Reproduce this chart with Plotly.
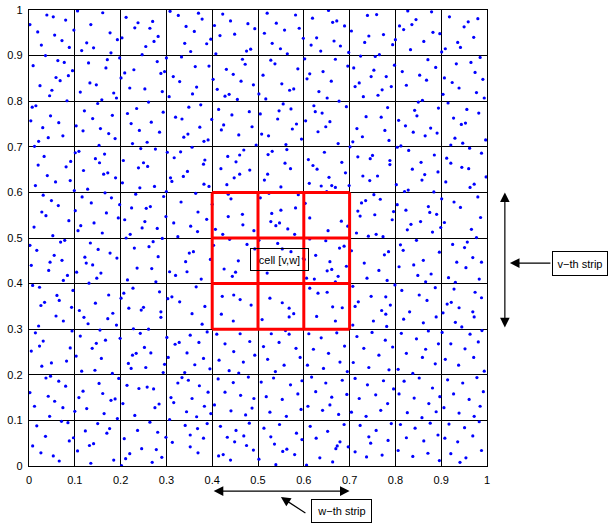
import plotly.graph_objects as go

# ---------------- data ----------------
tick_vals = [0, 0.1, 0.2, 0.3, 0.4, 0.5, 0.6, 0.7, 0.8, 0.9, 1]
tick_text = ["0", "0.1", "0.2", "0.3", "0.4", "0.5", "0.6", "0.7", "0.8", "0.9", "1"]

# red 3x3 block of cells around cell [v,w]
red_x = [0.4, 0.5, 0.6, 0.7]
red_y = [0.3, 0.4, 0.5, 0.6]

cell_label = "cell [v,w]"
v_label = "v\u2212th strip"
w_label = "w\u2212th strip"

# scattered points
dots_top_left = [
(0.039,0.989),(0.053,0.985),(0.080,0.978),(0.002,0.968),(0.019,0.952),(0.056,0.945),(0.072,0.933),(0.027,0.923),(0.088,0.918),(0.098,0.956),(0.106,0.998),(0.161,0.994),(0.135,0.968),(0.177,0.950),(0.193,0.935),(0.126,0.928),(0.141,0.917),(0.115,0.911),(0.179,0.906),(0.203,0.939),(0.212,0.984),(0.238,0.972),(0.270,0.975),(0.231,0.961),(0.264,0.960),(0.282,0.942),(0.273,0.931),(0.255,0.920),(0.247,0.902),(0.308,0.997),(0.326,0.988),
(0.036,0.900),(0.009,0.878),(0.063,0.889),(0.077,0.885),(0.095,0.867),(0.086,0.856),(0.059,0.852),(0.068,0.845),(0.024,0.834),(0.050,0.824),(0.045,0.812),(0.083,0.801),(0.130,0.884),(0.171,0.891),(0.168,0.873),(0.133,0.840),(0.147,0.836),(0.112,0.820),(0.185,0.818),(0.191,0.807),(0.159,0.803),(0.198,0.895),(0.209,0.862),(0.229,0.869),(0.201,0.851),(0.220,0.829),(0.253,0.827),(0.280,0.887),(0.288,0.861),(0.296,0.865),(0.291,0.821),(0.306,0.810),(0.300,0.895),(0.315,0.854),(0.329,0.843),
(0.007,0.787),(0.015,0.790),(0.004,0.757),(0.047,0.768),(0.065,0.753),(0.030,0.742),(0.074,0.724),(0.042,0.720),(0.021,0.712),(0.012,0.701),(0.103,0.746),(0.121,0.779),(0.139,0.762),(0.150,0.795),(0.182,0.769),(0.156,0.740),(0.118,0.735),(0.174,0.729),(0.188,0.718),(0.153,0.703),(0.215,0.773),(0.235,0.784),(0.223,0.751),(0.241,0.736),(0.267,0.754),(0.261,0.798),(0.293,0.776),(0.285,0.732),(0.258,0.710),(0.226,0.707),(0.244,0.696),(0.320,0.765),
(0.033,0.679),(0.091,0.668),(0.101,0.687),(0.109,0.690),(0.145,0.674),(0.165,0.684),(0.206,0.670),(0.250,0.665),(0.276,0.695),(0.302,0.688),(0.317,0.676),(0.331,0.689),
]
dots_top_mid = [
(0.370,0.993),(0.378,0.980),(0.343,0.964),(0.361,0.953),(0.340,0.927),(0.388,0.926),(0.353,0.909),(0.397,0.936),
(0.423,0.991),(0.440,0.976),(0.405,0.966),(0.478,0.970),(0.493,0.959),(0.417,0.944),(0.449,0.947),(0.484,0.914),(0.475,0.910),(0.408,0.904),
(0.520,0.993),(0.582,0.989),(0.540,0.971),(0.558,0.956),(0.590,0.960),(0.514,0.949),(0.531,0.927),(0.549,0.915),(0.564,0.904),(0.599,0.938),
(0.654,0.999),(0.619,0.982),(0.663,0.973),(0.628,0.939),(0.616,0.923),(0.666,0.932),(0.637,0.910),
(0.333,0.897),(0.363,0.876),(0.393,0.877),(0.366,0.831),(0.357,0.816),
(0.466,0.892),(0.472,0.881),(0.431,0.870),(0.446,0.859),(0.402,0.848),(0.463,0.844),(0.490,0.836),(0.411,0.826),(0.428,0.811),(0.437,0.815),(0.455,0.804),
(0.528,0.890),(0.537,0.882),(0.587,0.871),(0.511,0.857),(0.552,0.838),(0.569,0.824),(0.578,0.827),(0.502,0.816),(0.517,0.805),
(0.602,0.893),(0.613,0.860),(0.607,0.849),(0.642,0.865),(0.660,0.844),(0.633,0.821),(0.651,0.807),
(0.349,0.787),(0.375,0.792),(0.334,0.761),(0.399,0.760),(0.373,0.743),(0.347,0.728),(0.338,0.721),(0.391,0.715),(0.382,0.712),(0.356,0.699),
(0.414,0.782),(0.443,0.770),(0.481,0.777),(0.425,0.748),(0.420,0.737),(0.487,0.744),(0.458,0.726),(0.496,0.704),
(0.555,0.794),(0.546,0.779),(0.572,0.783),(0.505,0.772),(0.543,0.761),(0.584,0.750),(0.575,0.739),(0.508,0.728),(0.523,0.724),(0.595,0.717),(0.561,0.705),
(0.622,0.790),(0.625,0.777),(0.640,0.774),(0.657,0.755),(0.604,0.757),(0.648,0.744),(0.631,0.733),
(0.384,0.671),(0.434,0.679),(0.460,0.682),(0.469,0.693),(0.452,0.667),(0.522,0.683),(0.531,0.690),(0.563,0.694),(0.645,0.688),(0.610,0.672),
]
dots_top_right = [
(0.672,0.976),(0.689,0.965),(0.680,0.921),(0.698,0.907),
(0.739,0.988),(0.759,0.990),(0.704,0.954),(0.742,0.943),(0.774,0.946),(0.733,0.929),(0.794,0.924),(0.800,0.935),(0.724,0.899),(0.756,0.898),(0.765,0.902),
(0.827,0.998),(0.879,0.996),(0.809,0.965),(0.836,0.968),(0.845,0.979),(0.818,0.957),(0.882,0.951),(0.862,0.931),(0.833,0.913),(0.897,0.948),
(0.918,0.985),(0.980,0.981),(0.959,0.974),(0.950,0.963),(0.971,0.940),(0.936,0.929),(0.942,0.918),(0.909,0.915),(0.901,0.908),
(0.669,0.892),(0.696,0.877),(0.677,0.800),
(0.709,0.873),(0.753,0.868),(0.747,0.854),(0.780,0.854),(0.721,0.840),(0.712,0.832),(0.771,0.825),(0.791,0.832),(0.762,0.813),(0.730,0.810),(0.798,0.879),
(0.871,0.891),(0.888,0.874),(0.815,0.865),(0.853,0.857),(0.868,0.846),(0.824,0.835),(0.859,0.802),(0.850,0.798),
(0.985,0.896),(0.933,0.882),(0.965,0.885),(0.974,0.863),(0.907,0.851),(0.924,0.841),(0.939,0.829),(0.991,0.848),(0.977,0.819),(0.994,0.807),(0.904,0.815),
(0.693,0.788),(0.675,0.707),(0.701,0.700),
(0.783,0.786),(0.736,0.766),(0.769,0.765),(0.716,0.740),(0.777,0.736),(0.728,0.722),(0.786,0.714),(0.707,0.711),
(0.842,0.780),(0.847,0.768),(0.807,0.758),(0.822,0.746),(0.839,0.732),(0.865,0.724),(0.877,0.741),(0.891,0.730),(0.894,0.785),(0.804,0.699),(0.812,0.702),
(0.915,0.796),(0.956,0.782),(0.982,0.774),(0.927,0.763),(0.953,0.752),(0.944,0.749),(0.930,0.719),(0.947,0.708),(0.921,0.704),(0.962,0.697),(0.997,0.715),
(0.718,0.678),(0.750,0.681),(0.745,0.674),(0.788,0.670),(0.829,0.692),(0.885,0.682),(0.912,0.675),(0.988,0.686),(0.683,0.666),(0.856,0.666),(0.921,0.664),
]
dots_mid_left = [
(0.020,0.660),(0.081,0.656),(0.040,0.637),(0.058,0.623),(0.090,0.626),(0.014,0.615),(0.099,0.604),
(0.154,0.665),(0.119,0.648),(0.163,0.640),(0.172,0.643),(0.189,0.632),(0.128,0.607),
(0.239,0.654),(0.259,0.657),(0.204,0.621),(0.242,0.610),(0.274,0.613),
(0.309,0.632),(0.312,0.624),(0.300,0.602),
(0.031,0.594),(0.049,0.582),(0.064,0.571),(0.028,0.557),(0.037,0.549),(0.087,0.538),(0.011,0.524),(0.052,0.505),
(0.116,0.590),(0.136,0.577),(0.101,0.560),(0.169,0.555),(0.142,0.533),(0.113,0.527),(0.107,0.516),(0.160,0.511),(0.195,0.544),(0.198,0.573),(0.166,0.599),(0.180,0.588),
(0.233,0.596),(0.224,0.566),(0.256,0.565),(0.265,0.569),(0.209,0.540),(0.253,0.536),(0.247,0.522),(0.280,0.521),(0.221,0.508),(0.212,0.500),(0.294,0.591),
(0.332,0.579),(0.299,0.547),(0.316,0.533),(0.325,0.503),(0.291,0.499),
(0.002,0.484),(0.017,0.473),(0.069,0.491),(0.078,0.495),(0.055,0.462),(0.072,0.451),(0.046,0.447),(0.005,0.440),(0.043,0.429),(0.084,0.418),(0.075,0.407),
(0.134,0.489),(0.151,0.475),(0.177,0.467),(0.192,0.456),(0.122,0.458),(0.125,0.445),(0.139,0.441),(0.104,0.425),(0.157,0.423),(0.148,0.412),(0.131,0.401),
(0.271,0.492),(0.262,0.481),(0.230,0.478),(0.282,0.459),(0.236,0.434),(0.268,0.433),(0.215,0.408),(0.277,0.404),
(0.307,0.426),(0.320,0.418),
(0.008,0.396),(0.023,0.392),(0.096,0.385),(0.061,0.374),(0.066,0.363),(0.034,0.359),(0.026,0.352),(0.093,0.348),
(0.174,0.375),(0.145,0.357),(0.110,0.341),(0.183,0.335),
(0.227,0.390),(0.207,0.379),(0.201,0.368),(0.285,0.382),(0.250,0.348),(0.245,0.342),(0.218,0.346),(0.288,0.338),
(0.303,0.367),(0.312,0.371),(0.329,0.360),
]
dots_center = [
(0.381,0.662),(0.346,0.646),(0.337,0.635),(0.382,0.618),(0.393,0.613),
(0.419,0.652),(0.460,0.640),(0.448,0.632),(0.482,0.649),(0.432,0.617),
(0.559,0.664),(0.571,0.652),(0.521,0.640),(0.514,0.627),(0.550,0.612),(0.524,0.598),
(0.620,0.659),(0.629,0.651),(0.655,0.633),(0.612,0.620),(0.638,0.614),(0.661,0.615),
(0.364,0.598),(0.369,0.557),(0.388,0.541),(0.353,0.526),(0.368,0.514),
(0.435,0.596),(0.441,0.586),(0.400,0.574),(0.466,0.552),(0.435,0.547),(0.467,0.529),(0.407,0.519),(0.423,0.508),(0.491,0.516),
(0.505,0.588),(0.530,0.554),(0.550,0.561),(0.582,0.566),(0.528,0.536),(0.547,0.533),(0.539,0.527),(0.565,0.520),(0.580,0.508),(0.588,0.595),
(0.603,0.576),(0.650,0.602),(0.613,0.544),(0.653,0.516),
(0.359,0.470),(0.350,0.467),(0.342,0.448),(0.396,0.453),(0.345,0.426),(0.376,0.410),(0.365,0.393),
(0.438,0.497),(0.403,0.484),(0.476,0.486),(0.457,0.450),(0.426,0.432),(0.451,0.425),(0.444,0.416),(0.493,0.476),
(0.502,0.495),(0.543,0.488),(0.553,0.476),(0.520,0.423),(0.572,0.470),(0.599,0.455),
(0.613,0.498),(0.648,0.494),(0.626,0.462),(0.601,0.453),(0.657,0.448),(0.651,0.428),(0.661,0.431),(0.606,0.412),(0.623,0.410),
(0.384,0.350),(0.356,0.334),
(0.422,0.372),(0.447,0.375),(0.461,0.365),(0.485,0.353),(0.420,0.333),
(0.526,0.368),(0.553,0.358),(0.568,0.346),(0.578,0.334),
(0.613,0.390),(0.631,0.379),(0.651,0.381),(0.663,0.349),
]
dots_mid_right = [
(0.691,0.643),(0.699,0.615),(0.669,0.611),
(0.788,0.661),(0.729,0.636),(0.761,0.636),(0.744,0.626),
(0.837,0.651),(0.864,0.639),(0.858,0.627),(0.893,0.645),(0.802,0.617),(0.828,0.605),(0.820,0.602),
(0.945,0.655),(0.960,0.652),(0.910,0.623),(0.972,0.618),(0.963,0.611),(0.998,0.634),(0.884,0.601),
(0.682,0.537),(0.696,0.526),
(0.753,0.595),(0.726,0.577),(0.735,0.582),(0.767,0.585),(0.718,0.559),(0.723,0.548),(0.755,0.551),(0.796,0.558),(0.793,0.540),(0.715,0.511),(0.741,0.504),(0.758,0.508),(0.773,0.503),
(0.804,0.573),(0.823,0.561),(0.872,0.569),(0.875,0.556),(0.890,0.552),(0.855,0.536),(0.834,0.530),(0.826,0.518),(0.881,0.513),(0.899,0.523),
(0.901,0.586),(0.928,0.579),(0.942,0.567),(0.980,0.590),(0.986,0.545),(0.907,0.534),(0.966,0.519),(0.977,0.501),
(0.678,0.478),(0.688,0.482),(0.693,0.438),(0.675,0.416),(0.669,0.404),
(0.704,0.472),(0.785,0.470),(0.776,0.463),(0.732,0.445),(0.764,0.429),(0.738,0.412),(0.782,0.407),
(0.846,0.495),(0.811,0.485),(0.817,0.473),(0.861,0.451),(0.840,0.441),(0.808,0.437),(0.878,0.421),(0.849,0.418),(0.866,0.404),
(0.896,0.469),(0.925,0.486),(0.957,0.491),(0.951,0.479),(0.969,0.457),(0.934,0.447),(0.954,0.435),(0.988,0.447),(0.916,0.413),(0.931,0.403),(0.983,0.410),
(0.684,0.347),
(0.707,0.394),(0.747,0.372),(0.779,0.371),(0.719,0.360),(0.712,0.350),(0.770,0.341),(0.789,0.353),(0.779,0.333),
(0.799,0.397),(0.814,0.385),(0.852,0.375),(0.869,0.363),(0.887,0.391),(0.831,0.338),(0.904,0.336),
(0.928,0.388),(0.974,0.381),(0.988,0.369),(0.922,0.359),(0.913,0.355),(0.939,0.347),(0.969,0.338),
]
dots_bottom_left = [
(0.059,0.329),(0.075,0.318),(0.021,0.307),(0.120,0.326),(0.129,0.312),(0.172,0.323),(0.191,0.309),(0.288,0.326),
(0.014,0.292),(0.031,0.274),(0.023,0.263),(0.005,0.252),(0.090,0.259),(0.082,0.230),(0.049,0.226),(0.028,0.219),(0.094,0.296),
(0.155,0.298),(0.112,0.285),(0.167,0.276),(0.147,0.269),(0.138,0.258),(0.103,0.241),(0.158,0.236),(0.144,0.210),(0.115,0.208),(0.199,0.280),(0.182,0.203),
(0.228,0.301),(0.261,0.300),(0.243,0.291),(0.252,0.260),(0.234,0.247),(0.226,0.243),(0.266,0.248),(0.217,0.225),(0.255,0.216),(0.223,0.214),(0.296,0.223),(0.293,0.205),
(0.301,0.282),(0.319,0.267),(0.328,0.271),(0.304,0.238),
(0.047,0.197),(0.037,0.193),(0.065,0.186),(0.080,0.175),(0.002,0.161),(0.042,0.153),(0.056,0.142),(0.012,0.131),(0.074,0.128),(0.045,0.109),(0.071,0.098),
(0.196,0.192),(0.153,0.181),(0.118,0.164),(0.161,0.159),(0.109,0.150),(0.179,0.144),(0.188,0.147),(0.126,0.126),(0.100,0.120),(0.164,0.115),(0.193,0.104),
(0.214,0.177),(0.240,0.170),(0.258,0.173),(0.272,0.169),(0.205,0.137),(0.284,0.136),(0.275,0.128),(0.231,0.111),
(0.334,0.194),(0.325,0.182),(0.310,0.150),(0.316,0.139),(0.307,0.102),
(0.085,0.095),(0.017,0.088),(0.036,0.065),(0.088,0.055),(0.008,0.044),(0.026,0.029),(0.053,0.022),(0.066,0.011),(0.097,0.062),
(0.150,0.093),(0.176,0.082),(0.170,0.072),(0.123,0.077),(0.106,0.033),(0.132,0.045),(0.141,0.049),(0.185,0.013),(0.135,0.006),
(0.264,0.096),(0.237,0.078),(0.281,0.074),(0.208,0.060),(0.246,0.038),(0.278,0.036),(0.220,0.027),(0.211,0.016),(0.290,0.019),(0.269,0.008),(0.202,0.001),(0.299,0.063),
(0.313,0.052),
]
dots_bottom_rest = [
(0.446,0.318),(0.509,0.321),(0.568,0.327),(0.628,0.328),(0.669,0.318),(0.707,0.309),(0.378,0.311),(0.752,0.318),(0.781,0.306),
(0.818,0.322),(0.861,0.314),(0.889,0.327),(0.931,0.315),(0.945,0.305),(0.972,0.327),
(0.352,0.287),(0.371,0.271),(0.389,0.294),(0.345,0.248),(0.381,0.236),(0.362,0.222),(0.395,0.213),(0.340,0.205),
(0.348,0.188),(0.372,0.176),(0.391,0.162),(0.356,0.148),(0.383,0.131),(0.344,0.119),(0.366,0.108),(0.397,0.115),
(0.341,0.089),(0.368,0.082),(0.389,0.093),(0.352,0.068),(0.381,0.061),(0.369,0.029),(0.352,0.042),
(0.410,0.289),(0.461,0.290),(0.428,0.268),(0.447,0.251),(0.482,0.273),(0.415,0.232),(0.468,0.228),(0.493,0.243),(0.437,0.209),(0.458,0.204),
(0.413,0.191),(0.446,0.183),(0.479,0.195),(0.428,0.162),(0.462,0.155),(0.491,0.148),(0.405,0.134),(0.441,0.121),(0.473,0.112),(0.487,0.127),
(0.414,0.022),(0.424,0.025),(0.440,0.013),(0.449,0.053),(0.475,0.045),(0.490,0.035),(0.418,0.087),(0.452,0.078),(0.481,0.094),(0.433,0.063),(0.469,0.066),
(0.529,0.290),(0.560,0.297),(0.568,0.289),(0.512,0.262),(0.546,0.271),(0.583,0.258),(0.521,0.234),(0.557,0.221),(0.592,0.238),(0.538,0.207),
(0.507,0.184),(0.534,0.193),(0.571,0.178),(0.596,0.187),(0.518,0.152),(0.553,0.146),(0.587,0.158),(0.526,0.118),(0.562,0.109),(0.594,0.124),
(0.502,0.015),(0.536,0.048),(0.539,0.003),(0.554,0.032),(0.563,0.037),(0.580,0.025),(0.513,0.083),(0.547,0.091),(0.584,0.072),(0.528,0.064),(0.596,0.058),
(0.611,0.290),(0.638,0.281),(0.672,0.292),(0.621,0.256),(0.654,0.247),(0.689,0.263),(0.608,0.221),(0.643,0.214),(0.679,0.228),(0.695,0.207),
(0.617,0.195),(0.648,0.182),(0.684,0.188),(0.626,0.163),(0.661,0.151),(0.694,0.157),(0.609,0.131),(0.641,0.122),(0.676,0.113),(0.657,0.134),
(0.606,0.002),(0.635,0.018),(0.663,0.009),(0.670,0.038),(0.673,0.044),(0.679,0.053),(0.614,0.087),(0.652,0.076),(0.688,0.091),(0.627,0.061),
(0.716,0.284),(0.749,0.293),(0.778,0.276),(0.731,0.258),(0.764,0.243),(0.794,0.261),(0.708,0.227),(0.742,0.216),(0.786,0.211),
(0.712,0.192),(0.739,0.178),(0.774,0.187),(0.796,0.169),(0.721,0.148),(0.757,0.156),(0.783,0.137),(0.704,0.118),(0.736,0.109),(0.768,0.122),
(0.697,0.042),(0.712,0.031),(0.737,0.020),(0.746,0.050),(0.771,0.024),(0.723,0.089),(0.758,0.078),(0.791,0.093),(0.742,0.064),(0.784,0.056),
(0.813,0.291),(0.846,0.279),(0.872,0.296),(0.894,0.268),(0.824,0.247),(0.859,0.238),(0.887,0.224),(0.806,0.212),(0.838,0.203),(0.866,0.256),
(0.819,0.186),(0.852,0.193),(0.881,0.171),(0.808,0.158),(0.841,0.149),(0.873,0.137),(0.897,0.152),(0.826,0.117),(0.858,0.106),(0.889,0.119),
(0.811,0.091),(0.843,0.083),(0.876,0.094),(0.824,0.062),(0.862,0.055),(0.893,0.068),(0.806,0.034),(0.838,0.021),(0.871,0.028),(0.896,0.012),
(0.902,0.293),(0.963,0.289),(0.989,0.297),(0.921,0.268),(0.952,0.257),(0.981,0.272),(0.909,0.234),(0.938,0.221),(0.971,0.238),(0.994,0.208),
(0.914,0.189),(0.947,0.182),(0.978,0.194),(0.927,0.158),(0.961,0.146),(0.992,0.163),(0.906,0.128),(0.939,0.116),(0.972,0.109),(0.985,0.131),
(0.917,0.092),(0.951,0.084),(0.983,0.097),(0.908,0.061),(0.936,0.053),(0.969,0.066),(0.921,0.027),(0.954,0.018),(0.988,0.034),(0.941,0.008),
]

all_dots = (dots_top_left + dots_top_mid + dots_top_right + dots_mid_left +
            dots_center + dots_mid_right + dots_bottom_left + dots_bottom_rest)
dot_x = [p[0] for p in all_dots]
dot_y = [p[1] for p in all_dots]

# ---------------- figure ----------------
FONT = "Liberation Sans, Arial, Helvetica, sans-serif"

fig = go.Figure()
fig.add_trace(go.Scatter(
    x=dot_x, y=dot_y, mode="markers",
    marker=dict(size=3.2, color="#0000ff", line=dict(width=0)),
    hoverinfo="skip", showlegend=False, cliponaxis=True,
))

shapes = []
# red block
for xv in red_x:
    shapes.append(dict(type="line", xref="x", yref="y", x0=xv, x1=xv,
                       y0=red_y[0], y1=red_y[-1], line=dict(color="#ff0000", width=3), layer="above"))
for yv in red_y:
    shapes.append(dict(type="line", xref="x", yref="y", y0=yv, y1=yv,
                       x0=red_x[0], x1=red_x[-1], line=dict(color="#ff0000", width=3), layer="above"))

annotations = []
arrow_common = dict(showarrow=True, arrowhead=2, startarrowhead=2, arrowsize=1.6,
                    arrowwidth=1.2, arrowcolor="black", standoff=0, startstandoff=0, text="")
# vertical double arrow (v-th strip extent)
annotations.append(dict(xref="paper", yref="paper", x=1.039, y=red_y[-1],
                        ax=0, ay=(red_y[-1] - red_y[0]) * 455, arrowside="end+start", **arrow_common))
# horizontal double arrow (w-th strip extent)
annotations.append(dict(xref="paper", yref="paper", x=red_x[-1], y=-0.055,
                        ax=-(red_x[-1] - red_x[0]) * 458, ay=0, arrowside="end+start", **arrow_common))
# pointer arrows from labels
annotations.append(dict(xref="paper", yref="paper", x=1.050, y=0.445, ax=42, ay=0,
                        showarrow=True, arrowhead=2, arrowsize=1.6, arrowwidth=1.2,
                        arrowcolor="black", standoff=0, text=""))
annotations.append(dict(xref="paper", yref="paper", x=0.550, y=-0.068, ax=26, ay=17,
                        showarrow=True, arrowhead=2, arrowsize=1.6, arrowwidth=1.2,
                        arrowcolor="black", standoff=0, text=""))
# text boxes
box = dict(showarrow=False, bordercolor="black", borderwidth=1, borderpad=0,
           xanchor="center", yanchor="middle",
           font=dict(family=FONT, size=11, color="black"))
annotations.append(dict(xref="paper", yref="paper", x=0.548, y=0.452, text=cell_label,
                        width=57, height=21, **box))
annotations.append(dict(xref="paper", yref="paper", x=1.202, y=0.445, text=v_label,
                        width=54, height=23, bgcolor="white", **box))
annotations.append(dict(xref="paper", yref="paper", x=0.683, y=-0.099, text=w_label,
                        width=59, height=22, bgcolor="white", **box))

axis_common = dict(range=[0, 1], tickvals=tick_vals, ticktext=tick_text,
                   showgrid=True, gridcolor="black", gridwidth=1.3,
                   showline=True, linecolor="black", linewidth=1.3, mirror=True,
                   zeroline=False, ticks="", automargin=False,
                   tickfont=dict(family=FONT, size=11, color="black"))

fig.update_layout(
    width=608, height=525,
    margin=dict(l=29, r=121, t=10, b=59),
    paper_bgcolor="white", plot_bgcolor="white",
    xaxis=dict(**axis_common, ticklabelstandoff=4),
    yaxis=dict(**axis_common, ticklabelstandoff=3),
    shapes=shapes, annotations=annotations,
)

# remove the browser's default 8px page margin so the figure fills the window
fig.write_html("out.html", config={"displayModeBar": False},
               post_script="document.body.style.margin='0';document.body.style.overflow='hidden';")
